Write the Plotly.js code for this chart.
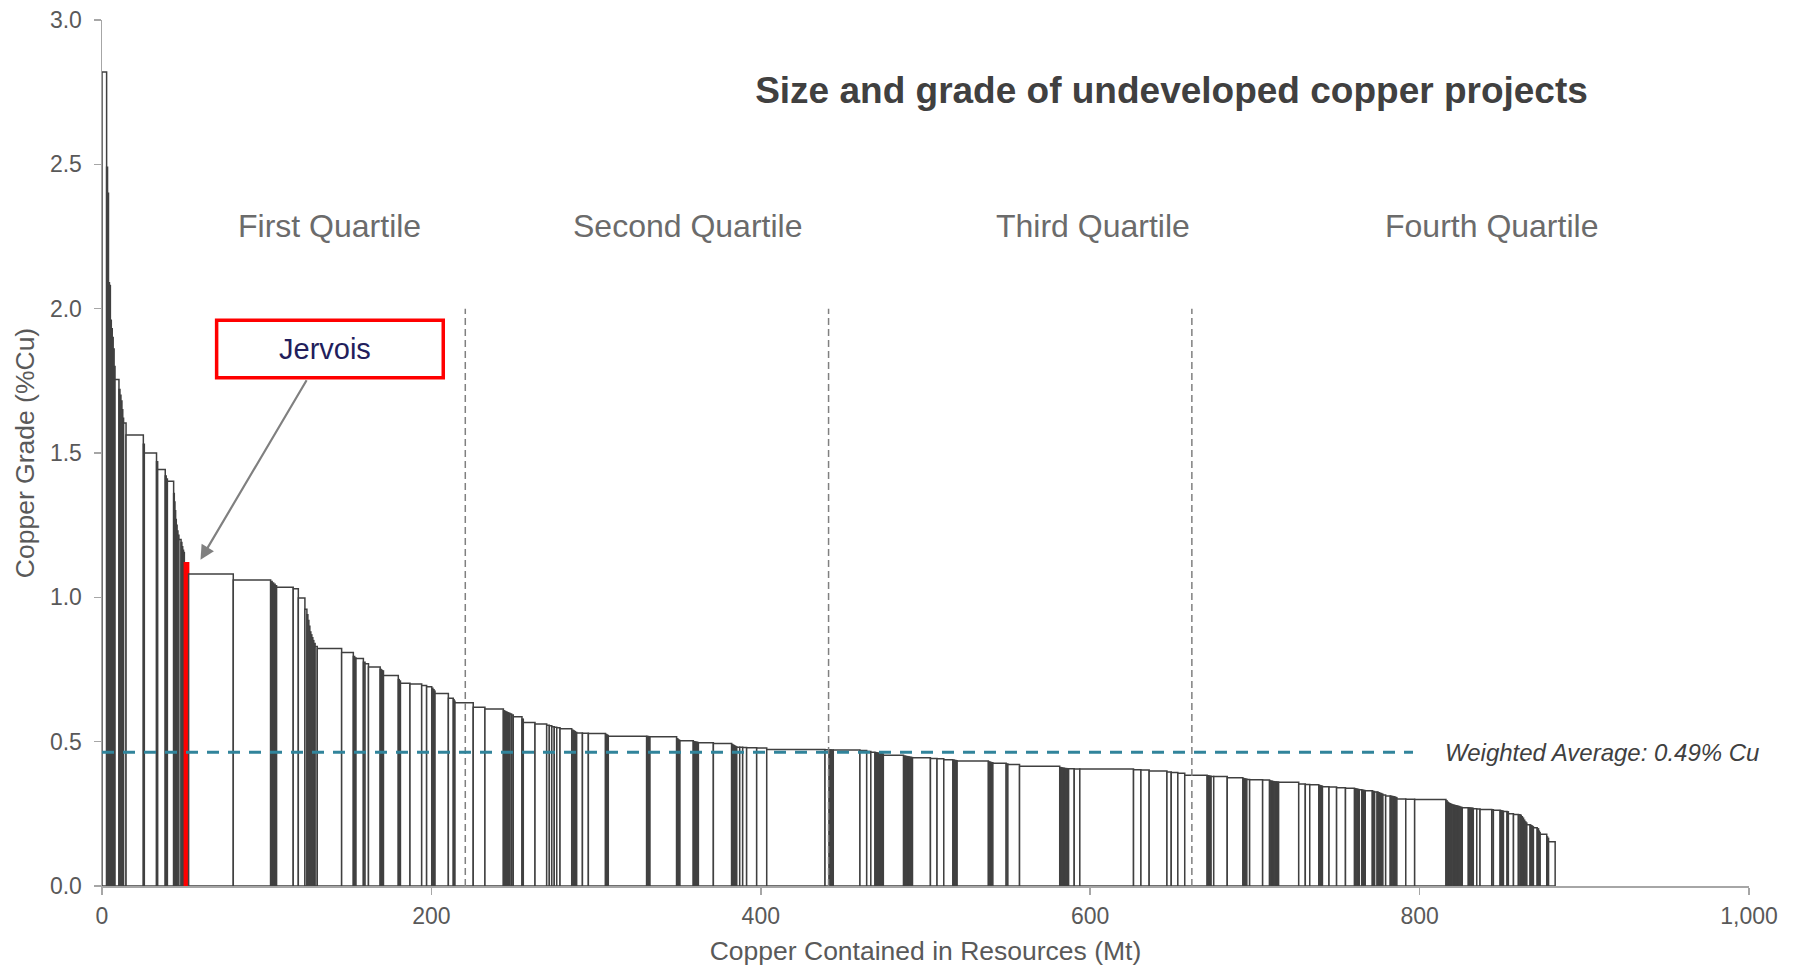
<!DOCTYPE html>
<html>
<head>
<meta charset="utf-8">
<script src="https://cdn.plot.ly/plotly-3.0.1.min.js"></script>
<style>
  html, body { margin: 0; padding: 0; background: #ffffff; }
  #chart { width: 1795px; height: 966px; }
</style>
</head>
<body>
<div id="chart"></div>
<script>
// ---------------- DATA ----------------
// Copper contained in resources of each project (Mt), sorted by descending grade
const widths = [
  2.8,0.57,0.57,0.57,0.57,0.57,0.57,0.57,0.57,0.54, 2.4,0.6,0.6,0.6,0.5,0.5,1.5, 10.5,0.6,7.4,0.7,4.6,0.6,0.7,3.8,
  0.4,0.4,0.4,0.4,0.5,0.5,0.6,1.3,0.5,0.5,0.5,0.5,
  2.6,
  27.1,22.7,0.9,0.9,0.9,0.9,10.1,3.1,4.0,
  1.2,0.6,0.6,0.6,0.6,0.6,0.6,0.6,0.8,1.3,
  14.8,7.1,0.8,0.8,4.5,1.0,2.1,7.1,0.6,0.7,0.7,9.0,0.6,0.7,
  5.8,7.1,3.0,3.1,0.7,0.7,0.6,8.1,3.0,0.5,0.5,11.1,7.1,11.2,
  0.8,0.8,0.8,0.8,0.8,1.0,1.0,5.3,0.8,7.1,7.1,
  1.6,1.5,1.5,1.5,2.0,7.1,0.7,0.7,0.8,0.8,3.5,3.6,10.4,0.6,0.6,0.5,
  23.3,0.7,0.6,0.7,16.2,0.7,0.7,0.6,8.1,0.7,0.8,0.8,0.8,9.1,11.1,
  0.6,0.6,0.6,0.6,0.7,1.8,1.8,2.4,6.1,6.1,35.4,
  2.5,0.8,0.8,0.9,16.2,4.1,2.5,2.5,0.85,0.85,0.85,0.85,0.85,0.85,
  12.3,0.9,0.9,0.9,0.9,0.9,0.9,10.9,4.0,4.1,5.5,0.9,0.9,0.8,19.0,0.9,0.9,0.9,8.1,1.0,7.1,24.4,
  0.9,0.9,0.9,0.9,0.9,0.9,3.4,3.4,32.6,4.5,5.0,10.8,2.6,4.0,4.2,13.6,
  0.8,0.8,0.8,1.6,8.2,9.5,0.8,0.8,0.8,1.7,7.9,4.2,
  0.8,0.8,0.8,0.8,0.8,0.8,0.7,12.2,4.0,2.7,5.5,0.7,0.7,0.8,4.0,4.6,5.4,5.5,
  0.7,0.7,0.7,0.8,1.5,0.7,0.7,0.7,4.3,
  0.7,0.7,1.5,0.7,0.7,0.7,0.7,0.7,1.7,
  2.8,0.8,0.8,0.8,0.8,0.8,5.4,5.4,19.0,
  0.7,0.7,0.7,0.7,0.7,0.7,0.7,0.7,0.7,0.7,0.7,0.7,0.7,0.8,
  3.7,0.7,0.8,0.8,0.7,2.1,2.0,7.1,1.0,4.1,0.7,0.7,0.6,2.2,0.8,3.1,3.0,1.0,
  0.7,0.7,0.7,0.7,0.7,0.6,2.0,0.7,0.7,0.6,2.3,0.8,0.5,0.5,4.0,0.5,0.6,4.0
];

// Copper grade of each project (%Cu)
const grades = [
  2.82,2.49,2.40,2.09,2.08,1.96,1.93,1.90,1.86,1.80, 1.755,1.72,1.70,1.68,1.65,1.62,1.604, 1.562,1.53,1.50,1.47,1.443,1.42,1.41,1.402,
  1.36,1.33,1.30,1.27,1.25,1.23,1.215,1.20,1.19,1.175,1.163,1.155,
  1.12,
  1.081,1.06,1.055,1.05,1.045,1.04,1.035,1.03,0.998,
  0.959,0.94,0.92,0.90,0.88,0.87,0.86,0.85,0.84,0.83,
  0.823,0.809,0.795,0.79,0.788,0.775,0.77,0.759,0.75,0.747,0.745,0.729,0.715,0.71,
  0.702,0.70,0.695,0.69,0.685,0.68,0.675,0.667,0.65,0.645,0.64,0.635,0.619,0.613,
  0.607,0.604,0.602,0.600,0.598,0.596,0.592,0.586,0.578,0.566,0.561,
  0.557,0.555,0.552,0.55,0.548,0.545,0.54,0.538,0.535,0.532,0.53,0.529,0.528,0.525,0.523,0.521,
  0.519,0.518,0.5175,0.517,0.517,0.51,0.506,0.504,0.503,0.50,0.499,0.498,0.497,0.496,0.494,
  0.49,0.488,0.486,0.484,0.482,0.481,0.4805,0.480,0.479,0.478,0.473,
  0.472,0.4715,0.4712,0.471,0.471,0.469,0.466,0.463,0.462,0.461,0.46,0.459,0.458,0.457,
  0.453,0.45,0.449,0.448,0.447,0.446,0.445,0.444,0.442,0.441,0.437,0.436,0.435,0.434,0.433,0.43,0.428,0.427,0.425,0.423,0.421,0.415,
  0.41,0.409,0.408,0.407,0.4065,0.406,0.406,0.4055,0.405,0.403,0.402,0.398,0.395,0.393,0.391,0.384,
  0.382,0.381,0.380,0.3795,0.379,0.375,0.372,0.371,0.370,0.369,0.368,0.367,
  0.364,0.363,0.362,0.361,0.3605,0.36,0.3598,0.359,0.353,0.352,0.351,0.348,0.347,0.346,0.344,0.343,0.34,0.339,
  0.337,0.336,0.335,0.334,0.333,0.332,0.331,0.3305,0.330,
  0.328,0.327,0.326,0.325,0.323,0.321,0.32,0.318,0.315,
  0.312,0.311,0.31,0.309,0.308,0.306,0.301,0.3005,0.300,
  0.295,0.29,0.287,0.285,0.283,0.281,0.28,0.279,0.278,0.277,0.276,0.275,0.273,0.272,
  0.271,0.2705,0.27,0.2695,0.269,0.268,0.267,0.265,0.264,0.262,0.261,0.26,0.259,0.258,0.257,0.25,0.248,0.247,
  0.245,0.24,0.235,0.228,0.222,0.218,0.212,0.21,0.208,0.205,0.202,0.198,0.19,0.185,0.179,0.17,0.165,0.153
];

const jervoisIndex = 37;               // the highlighted project (Jervois)
const quartiles = [0.25, 0.5, 0.75];   // quartile boundaries of total contained copper
const quartileLabels = ['First Quartile', 'Second Quartile', 'Third Quartile', 'Fourth Quartile'];
const weightedAvgGrade = 0.463;        // level of the dashed line as drawn
const weightedAvgText = 'Weighted Average: 0.49% Cu';
const weightedAvgEnd = 796;            // Mt, where the dashed line stops
const xTicks = [0, 200, 400, 600, 800, 1000];
const yTicks = [0, 0.5, 1.0, 1.5, 2.0, 2.5, 3.0];

// ---------------- BUILD ----------------
const xCenter = [];
let acc = 0;
for (let i = 0; i < widths.length; i++) {
  xCenter.push(acc + widths[i] / 2);
  acc += widths[i];
}
const total = acc;
const fillCols = grades.map((_, i) => i === jervoisIndex ? '#FF0000' : '#FFFFFF');
const lineCols = grades.map((_, i) => i === jervoisIndex ? '#FF0000' : '#404040');

const FONT = 'Liberation Sans, Arial, Helvetica, sans-serif';

const trace = {
  type: 'bar',
  x: xCenter,
  y: grades,
  width: widths,
  marker: { color: fillCols, line: { color: lineCols, width: 1.5 } },
  hoverinfo: 'skip',
  showlegend: false
};

const shapes = [];
quartiles.forEach(q => {
  shapes.push({
    type: 'line', xref: 'x', yref: 'y',
    x0: total * q, x1: total * q, y0: 0, y1: 2.0,
    line: { color: '#808080', width: 1.5, dash: '7px,4px' }
  });
});
shapes.push({
  type: 'line', xref: 'x', yref: 'y',
  x0: 0, x1: weightedAvgEnd, y0: weightedAvgGrade, y1: weightedAvgGrade,
  line: { color: '#31849B', width: 3, dash: '12px,9px' }
});
// Jervois call-out box
shapes.push({
  type: 'rect', xref: 'x', yref: 'y',
  x0: 69.6, x1: 207.2, y0: 1.761, y1: 1.960,
  line: { color: '#FF0000', width: 3.5 },
  fillcolor: 'rgba(255,255,255,0)'
});

const labelX = [138.3, 355.2, 601.7, 843.8];
const annotations = quartileLabels.map((t, i) => ({
  text: t, x: labelX[i], y: 2.288, xref: 'x', yref: 'y',
  showarrow: false, xanchor: 'center', yanchor: 'middle',
  font: { family: FONT, size: 32, color: '#6B6B6B' }
}));
annotations.push({
  text: 'Jervois', x: 135.6, y: 1.862, xref: 'x', yref: 'y',
  showarrow: false, xanchor: 'center', yanchor: 'middle',
  font: { family: FONT, size: 29, color: '#221E5C' }
});
annotations.push({
  text: '', x: xCenter[jervoisIndex] + 8.5, y: grades[jervoisIndex] + 0.01, xref: 'x', yref: 'y',
  showarrow: true, ax: 107, ay: -181, axref: 'pixel', ayref: 'pixel',
  arrowhead: 2, arrowsize: 1.3, arrowwidth: 2.2, arrowcolor: '#808080', standoff: 0
});
annotations.push({
  text: '<i>' + weightedAvgText + '</i>', x: 814, y: weightedAvgGrade, xref: 'x', yref: 'y',
  showarrow: false, xanchor: 'left', yanchor: 'middle',
  font: { family: FONT, size: 24, color: '#404040' }
});

const layout = {
  width: 1795, height: 966,
  margin: { l: 102, r: 46, t: 20, b: 80, pad: 0 },
  paper_bgcolor: '#FFFFFF', plot_bgcolor: '#FFFFFF',
  font: { family: FONT, color: '#595959' },
  bargap: 0,
  title: {
    text: '<b>Size and grade of undeveloped copper projects</b>',
    font: { family: FONT, size: 37, color: '#404040' },
    xref: 'container', yref: 'container',
    x: 1171.5 / 1795, xanchor: 'center',
    y: 1 - 90 / 966, yanchor: 'middle'
  },
  xaxis: {
    range: [0, 1000], tickvals: xTicks, tickformat: ',',
    showgrid: false, zeroline: false,
    showline: true, linecolor: '#A6A6A6', linewidth: 1.5,
    ticks: 'outside', ticklen: 7, tickwidth: 1.5, tickcolor: '#A6A6A6',
    ticklabelstandoff: 2,
    tickfont: { family: FONT, size: 23, color: '#595959' },
    title: { text: 'Copper Contained in Resources (Mt)', font: { family: FONT, size: 26.5, color: '#595959' }, standoff: 15 },
    fixedrange: true
  },
  yaxis: {
    range: [0, 3], tickvals: yTicks, tickformat: '.1f',
    showgrid: false, zeroline: false,
    showline: true, linecolor: '#A6A6A6', linewidth: 1.5,
    ticks: 'outside', ticklen: 7, tickwidth: 1.5, tickcolor: '#A6A6A6',
    ticklabelstandoff: 7,
    tickfont: { family: FONT, size: 23, color: '#595959' },
    title: { text: 'Copper Grade (%Cu)', font: { family: FONT, size: 26.5, color: '#595959' }, standoff: 7 },
    fixedrange: true
  },
  shapes: shapes,
  annotations: annotations
};

Plotly.newPlot('chart', [trace], layout, { displayModeBar: false, staticPlot: true });
</script>
</body>
</html>
